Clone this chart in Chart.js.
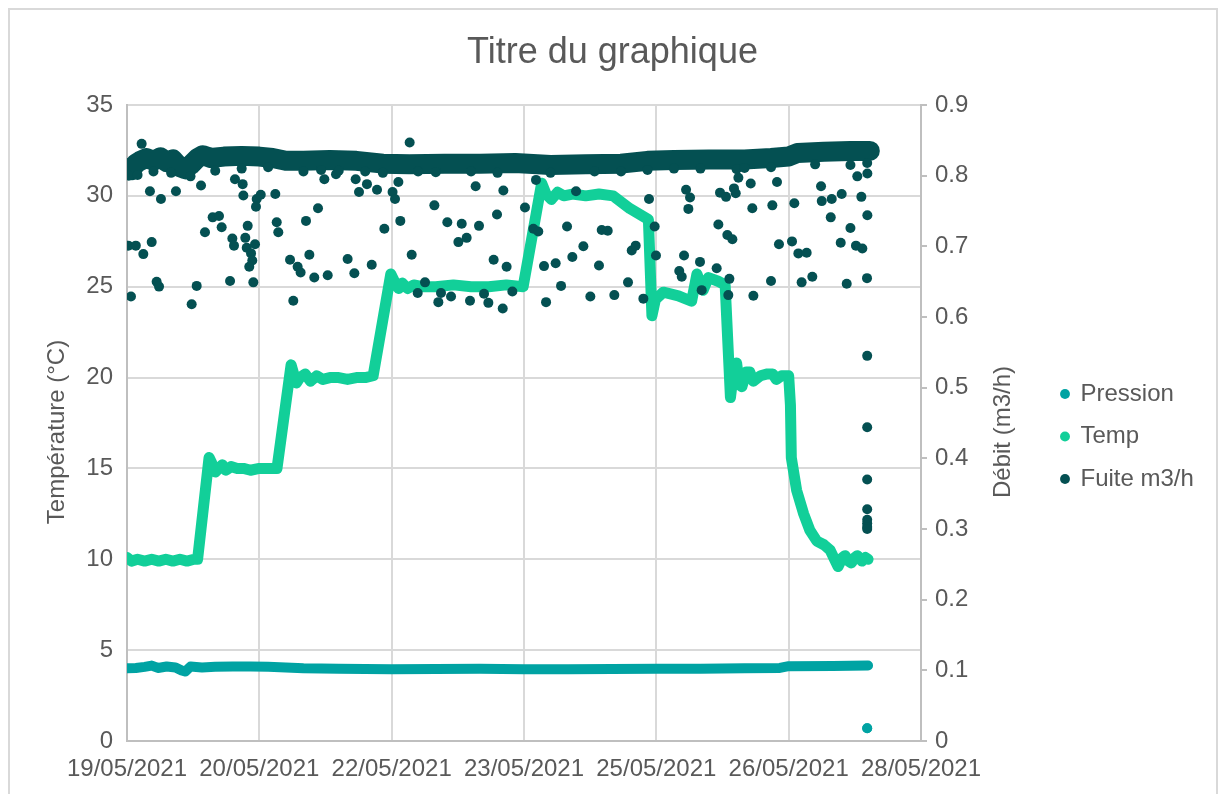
<!DOCTYPE html>
<html>
<head>
<meta charset="utf-8">
<title>Titre du graphique</title>
<script src="https://cdn.jsdelivr.net/npm/chart.js@4.4.1/dist/chart.umd.min.js"></script>
<style>
  html, body { margin: 0; padding: 0; background: #fff; }
  #wrap { position: relative; width: 1218px; height: 794px; overflow: hidden; }
  #frame { position: absolute; left: 8px; top: 8px; width: 1206px; height: 800px; border: 2px solid #d9d9d9; pointer-events: none; }
  canvas { position: absolute; left: 0; top: 0; }
</style>
</head>
<body>
<div id="wrap">
  <canvas id="chart" width="1218" height="794"></canvas>
  <div id="frame"></div>
</div>
<script>
// x values are days since 19/05/2021 00:00
const xTickLabels = ["19/05/2021", "20/05/2021", "22/05/2021", "23/05/2021", "25/05/2021", "26/05/2021", "28/05/2021"];

// Pression (left axis)
const pressionPoints = [
  [0, 4.0], [0.1, 4.02], [0.2, 4.08], [0.28, 4.15], [0.35, 4.02], [0.45, 4.1], [0.55, 4.05],
  [0.62, 3.88], [0.66, 3.82], [0.72, 4.1], [0.85, 4.05], [1.0, 4.08], [1.2, 4.1], [1.4, 4.1],
  [1.6, 4.08], [1.8, 4.05], [2.0, 4.0], [2.4, 3.98], [3.0, 3.95], [3.5, 3.96], [4.0, 3.97],
  [4.5, 3.95], [5.0, 3.95], [5.5, 3.96], [6.0, 3.97], [6.5, 3.98], [7.0, 4.0], [7.4, 4.02],
  [7.5, 4.12], [8.0, 4.13], [8.4, 4.15],
];
const pressionOutlier = [8.39, 0.7];

// Temp (left axis)
const tempPoints = [
  [0.0, 10.1], [0.05, 9.9], [0.12, 10.0], [0.2, 9.9], [0.28, 10.0], [0.36, 9.9], [0.44, 10.0],
  [0.52, 9.9], [0.6, 10.0], [0.68, 9.9], [0.76, 10.0], [0.8, 10.0],
  [0.93, 15.6], [0.96, 15.3], [1.0, 14.8], [1.04, 15.0], [1.08, 15.2], [1.12, 14.9], [1.18, 15.1],
  [1.25, 15.0], [1.32, 15.0], [1.4, 14.9], [1.5, 15.0], [1.6, 15.0], [1.7, 15.0],
  [1.86, 20.7], [1.89, 20.2], [1.92, 19.7], [1.96, 20.0], [2.02, 20.2], [2.08, 19.8], [2.15, 20.1],
  [2.22, 19.9], [2.3, 20.0], [2.4, 20.0], [2.5, 19.9], [2.6, 20.0], [2.7, 20.0], [2.79, 20.1],
  [2.99, 25.7], [3.03, 25.3], [3.08, 24.9], [3.12, 25.2], [3.18, 24.9], [3.25, 25.1], [3.35, 25.0],
  [3.5, 25.0], [3.7, 25.1], [3.9, 25.0], [4.1, 25.0], [4.3, 25.1], [4.49, 25.0],
  [4.7, 30.7], [4.75, 30.1], [4.81, 29.8], [4.88, 30.2], [4.95, 30.0], [5.05, 30.1], [5.2, 30.0],
  [5.35, 30.1], [5.51, 30.0], [5.7, 29.3], [5.91, 28.7],
  [5.95, 23.4], [5.99, 24.3], [6.08, 24.7], [6.25, 24.5], [6.4, 24.2], [6.46, 25.7], [6.53, 24.8],
  [6.59, 25.5], [6.7, 25.3], [6.78, 25.1],
  [6.84, 18.9], [6.88, 20.5], [6.91, 20.8], [6.94, 19.6], [6.97, 19.5], [7.02, 20.3], [7.06, 20.3],
  [7.1, 19.8], [7.18, 20.1], [7.26, 20.2], [7.32, 20.2], [7.36, 19.9], [7.42, 20.1], [7.5, 20.1],
  [7.52, 18.5], [7.53, 15.6], [7.59, 13.8], [7.67, 12.5], [7.74, 11.6], [7.82, 11.0], [7.9, 10.8],
  [7.97, 10.5], [8.02, 10.0], [8.06, 9.6], [8.11, 10.1], [8.14, 10.2], [8.18, 9.9], [8.21, 9.8],
  [8.25, 10.1], [8.28, 10.2], [8.33, 9.9], [8.37, 10.1], [8.4, 10.0],
];

// Fuite m3/h (right axis): dense band of readings
const fuiteBand = [
  [0, 0.81], [0.05, 0.808], [0.1, 0.817], [0.15, 0.821], [0.22, 0.825], [0.3, 0.821], [0.38, 0.826],
  [0.45, 0.819], [0.52, 0.823], [0.6, 0.812], [0.66, 0.809], [0.72, 0.815], [0.8, 0.825], [0.86, 0.829],
  [0.95, 0.825], [1.1, 0.827], [1.3, 0.828], [1.5, 0.827], [1.65, 0.825], [1.8, 0.821], [2.0, 0.821],
  [2.3, 0.822], [2.6, 0.821], [2.9, 0.817], [3.2, 0.816], [3.6, 0.817], [4.0, 0.817], [4.4, 0.818],
  [4.8, 0.815], [5.2, 0.816], [5.6, 0.817], [5.9, 0.821], [6.2, 0.822], [6.6, 0.823], [7.0, 0.823],
  [7.3, 0.825], [7.5, 0.827], [7.6, 0.832], [7.9, 0.834], [8.2, 0.835], [8.42, 0.835],
];

// Fuite m3/h (right axis): scattered readings
const fuitePoints = [
  [0.166, 0.845], [0.015, 0.701], [0.1, 0.701], [0.185, 0.689], [0.28, 0.706], [0.26, 0.778],
  [0.385, 0.767], [0.555, 0.778], [0.839, 0.786], [0.336, 0.65], [0.363, 0.643], [0.045, 0.629],
  [0.733, 0.618], [0.79, 0.644], [0.884, 0.72], [0.971, 0.741], [1.043, 0.743], [1.073, 0.727],
  [1.194, 0.711], [1.213, 0.701], [1.168, 0.651], [1.224, 0.795], [1.311, 0.788], [1.319, 0.772],
  [1.368, 0.729], [1.341, 0.712], [1.357, 0.698], [1.406, 0.69], [1.42, 0.68], [1.386, 0.671],
  [1.451, 0.703], [1.47, 0.767], [1.516, 0.773], [1.462, 0.756], [1.432, 0.649], [1.681, 0.774],
  [1.697, 0.734], [1.715, 0.72], [1.848, 0.681], [1.934, 0.671], [1.968, 0.663], [1.885, 0.623],
  [2.067, 0.688], [2.123, 0.656], [2.275, 0.659], [2.029, 0.736], [2.165, 0.754], [2.237, 0.795],
  [2.369, 0.802], [2.501, 0.682], [2.577, 0.662], [2.774, 0.674], [2.592, 0.795], [2.63, 0.777],
  [2.72, 0.788], [2.834, 0.78], [2.917, 0.725], [3.01, 0.777], [3.038, 0.767], [3.076, 0.791],
  [3.098, 0.736], [3.204, 0.847], [3.227, 0.688], [3.484, 0.758], [3.631, 0.734], [3.794, 0.732],
  [3.756, 0.706], [3.85, 0.712], [3.99, 0.729], [3.952, 0.785], [4.194, 0.745], [4.266, 0.779],
  [4.156, 0.681], [4.303, 0.671], [4.511, 0.755], [4.606, 0.725], [4.636, 0.794], [3.378, 0.649],
  [3.295, 0.634], [3.559, 0.634], [3.529, 0.621], [3.673, 0.629], [3.888, 0.623], [4.047, 0.633],
  [4.096, 0.62], [4.259, 0.612], [4.368, 0.636],
  [4.662, 0.721], [4.727, 0.672], [4.859, 0.676], [4.92, 0.644], [4.75, 0.621], [4.988, 0.728],
  [5.048, 0.685], [5.09, 0.778], [5.173, 0.7], [5.252, 0.629], [5.35, 0.673], [5.381, 0.723],
  [5.449, 0.722], [5.524, 0.631], [5.679, 0.649], [5.721, 0.694], [5.766, 0.701], [5.853, 0.626],
  [5.917, 0.767], [5.981, 0.728], [5.996, 0.687], [6.314, 0.687], [6.26, 0.665], [6.288, 0.657],
  [6.495, 0.678], [6.514, 0.638], [6.684, 0.669], [6.816, 0.631], [6.828, 0.654], [6.337, 0.78],
  [6.382, 0.769], [6.363, 0.753], [6.703, 0.731], [6.722, 0.776], [6.79, 0.77], [6.805, 0.716],
  [6.862, 0.71], [6.88, 0.782], [6.9, 0.775], [6.93, 0.797], [6.91, 0.809], [7.07, 0.789],
  [7.088, 0.754], [7.1, 0.63], [7.3, 0.651], [7.315, 0.758], [7.368, 0.791], [7.39, 0.703],
  [7.538, 0.707], [7.564, 0.761], [7.61, 0.69], [7.704, 0.691], [7.647, 0.649], [7.768, 0.657],
  [7.867, 0.785], [7.875, 0.764], [7.988, 0.767], [7.977, 0.741], [8.101, 0.774], [8.09, 0.705],
  [8.2, 0.726], [8.263, 0.701], [8.335, 0.697], [8.158, 0.647], [8.388, 0.655], [8.278, 0.799],
  [8.324, 0.77], [8.392, 0.744], [8.392, 0.803], [8.39, 0.818],
  [8.39, 0.545], [8.39, 0.444], [8.39, 0.37], [8.39, 0.328], [8.39, 0.313], [8.39, 0.308],
  [8.39, 0.303], [8.39, 0.3],
  [0.02, 0.8], [0.12, 0.801], [0.3, 0.806], [0.5, 0.804], [0.72, 0.799], [1.0, 0.807],
  [1.3, 0.81], [1.6, 0.812], [2.0, 0.806], [2.2, 0.808], [2.4, 0.807], [2.7, 0.806],
  [2.9, 0.804], [3.3, 0.806], [3.5, 0.805], [3.9, 0.806], [4.2, 0.804], [4.8, 0.804],
  [5.3, 0.806], [5.6, 0.806], [5.9, 0.808], [6.2, 0.81], [6.5, 0.81], [7.0, 0.811],
  [7.3, 0.812], [7.8, 0.816], [8.2, 0.815],
];

const colors = {
  pression: "#00a3a3",
  temp: "#12cf99",
  fuite: "#045052",
  text: "#595959",
  grid: "#d9d9d9",
  axis: "#bfbfbf",
};
const fontFamily = "'Liberation Sans', Arial, sans-serif";

const toXY = (pts) => pts.map(([x, y]) => ({ x, y }));

// axis titles are both written bottom-to-top, as in the reference
const axisTitles = {
  id: "axisTitles",
  afterDraw(chart) {
    const { ctx, chartArea } = chart;
    const mid = (chartArea.top + chartArea.bottom) / 2 + 9;
    ctx.save();
    ctx.fillStyle = colors.text;
    ctx.font = "24px " + fontFamily;
    ctx.textAlign = "center";
    ctx.textBaseline = "middle";
    [
      [chartArea.left - 70, "Température (°C)"],
      [chartArea.right + 82, "Débit (m3/h)"],
    ].forEach(([x, text]) => {
      ctx.save();
      ctx.translate(x, mid);
      ctx.rotate(-Math.PI / 2);
      ctx.fillText(text, 0, 0);
      ctx.restore();
    });
    ctx.restore();
  },
};

Chart.defaults.font.family = fontFamily;
Chart.defaults.color = colors.text;

new Chart(document.getElementById("chart"), {
  type: "scatter",
  data: {
    datasets: [
      {
        label: "Pression",
        data: toXY(pressionPoints).concat([
          { x: pressionOutlier[0], y: null },
          { x: pressionOutlier[0], y: pressionOutlier[1] },
        ]),
        yAxisID: "y",
        showLine: true,
        borderColor: colors.pression,
        backgroundColor: colors.pression,
        borderWidth: 10,
        borderCapStyle: "round",
        borderJoinStyle: "round",
        pointRadius: (ctx) => (ctx.dataIndex === pressionPoints.length + 1 ? 5 : 0),
        pointBorderWidth: 0,
        order: 3,
      },
      {
        label: "Temp",
        data: toXY(tempPoints),
        yAxisID: "y",
        showLine: true,
        borderColor: colors.temp,
        backgroundColor: colors.temp,
        borderWidth: 11,
        borderCapStyle: "round",
        borderJoinStyle: "round",
        pointRadius: 0,
        order: 2,
      },
      {
        label: "Fuite m3/h",
        data: toXY(fuitePoints),
        yAxisID: "y1",
        showLine: false,
        backgroundColor: colors.fuite,
        borderColor: colors.fuite,
        pointRadius: 5,
        pointBorderWidth: 0,
        order: 0,
      },
      {
        label: "Fuite m3/h",
        bandOnly: true,
        data: toXY(fuiteBand),
        yAxisID: "y1",
        showLine: true,
        borderColor: colors.fuite,
        backgroundColor: colors.fuite,
        borderWidth: 20,
        borderCapStyle: "round",
        borderJoinStyle: "round",
        pointRadius: 0,
        order: 1,
      },
    ],
  },
  options: {
    responsive: false,
    animation: false,
    devicePixelRatio: 1,
    locale: "en-US",
    layout: { padding: { left: 32, right: 25, top: 0, bottom: 0 } },
    plugins: {
      title: {
        display: true,
        text: "Titre du graphique",
        color: colors.text,
        font: { size: 36, weight: "normal" },
        padding: { top: 31, bottom: 30.8 },
      },
      legend: {
        position: "right",
        align: "center",
        fullSize: false,
        maxWidth: 150,
        title: { display: true, text: "", font: { size: 27, lineHeight: 1 }, padding: 0 },
        labels: {
          usePointStyle: true,
          boxWidth: 7,
          boxHeight: 7,
          padding: 18.5,
          color: colors.text,
          font: { size: 24 },
          generateLabels: (chart) =>
            chart.data.datasets
              .map((ds, i) => ({
                text: ds.label,
                fillStyle: ds.borderColor,
                strokeStyle: ds.borderColor,
                lineWidth: 0,
                pointStyle: "circle",
                hidden: false,
                datasetIndex: i,
                fontColor: colors.text,
              }))
              .filter((item) => !chart.data.datasets[item.datasetIndex].bandOnly),
        },
      },
      tooltip: { enabled: false },
    },
    scales: {
      x: {
        type: "linear",
        min: 0,
        max: 9,
        ticks: {
          stepSize: 1.5,
          autoSkip: false,
          maxRotation: 0,
          padding: 14,
          color: colors.text,
          font: { size: 24 },
          callback: (value, index) => xTickLabels[index],
        },
        grid: { color: colors.grid, lineWidth: 2, drawTicks: false },
        border: { color: colors.axis, width: 2 },
        afterFit: (scale) => { scale.height = 53; },
      },
      y: {
        position: "left",
        min: 0,
        max: 35,
        ticks: { stepSize: 5, padding: 14, color: colors.text, font: { size: 24 } },
        grid: { color: colors.grid, lineWidth: 2, drawTicks: false },
        border: { color: colors.axis, width: 2 },
        afterFit: (scale) => { scale.width = 95; },
      },
      y1: {
        position: "right",
        min: 0,
        max: 0.9,
        ticks: { stepSize: 0.1, padding: 8, color: colors.text, font: { size: 24 } },
        grid: { drawOnChartArea: false, drawTicks: true, tickLength: 6, color: colors.axis, lineWidth: 2 },
        border: { color: colors.axis, width: 2 },
        afterFit: (scale) => { scale.width = 122; },
      },
    },
  },
  plugins: [axisTitles],
});
</script>
</body>
</html>
